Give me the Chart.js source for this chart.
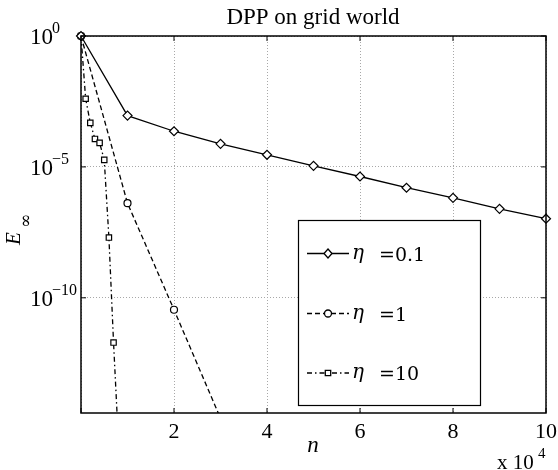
<!DOCTYPE html>
<html>
<head>
<meta charset="utf-8">
<script src="https://cdn.jsdelivr.net/npm/chart.js@4/dist/chart.umd.min.js"></script>
<style>
  body { margin: 0; background: #fff; }
  canvas { display: block; }
</style>
</head>
<body>
<canvas id="dppChart" width="558" height="470"></canvas>
<script>
'use strict';

// values (n = iterations, E = sup error)
const nEta01 = [0, 10000, 20000, 30000, 40000, 50000, 60000, 70000, 80000, 90000, 100000];
const errEta01 = [1, 9.1e-4, 2.3e-4, 7.6e-5, 2.9e-5, 1.1e-5, 4.3e-6, 1.6e-6, 6.6e-7, 2.5e-7, 1.05e-7];

const nEta1 = [0, 10000, 20000, 30000];
const errEta1 = [1, 4.1e-7, 3.5e-11, 2.5e-15];

const nEta10 = [0, 1000, 2000, 3000, 4000, 5000, 6000, 7000, 8000];
const errEta10 = [1, 4.0e-3, 4.8e-4, 1.17e-4, 8.3e-5, 1.86e-5, 2.0e-8, 1.95e-12, 5.0e-16];

const xTicks = [0, 20000, 40000, 60000, 80000, 100000];
const xTickLabels = ['', '2', '4', '6', '8', '10'];
const yTicks = [1, 1e-5, 1e-10];
const yTickExponents = ['0', '\u22125', '\u221210'];
const legendLabels = ['0.1', '1', '10'];

const serif = '"Liberation Serif", "Times New Roman", serif';
const mathFont = '"DejaVu Serif", serif';

function toPoints(xs, ys) {
  return xs.map((x, i) => ({ x: x, y: ys[i] }));
}

function drawMarker(ctx, style, x, y) {
  ctx.beginPath();
  if (style === 'rectRot') {
    ctx.moveTo(x, y - 4.5);
    ctx.lineTo(x + 4, y);
    ctx.lineTo(x, y + 4.5);
    ctx.lineTo(x - 4, y);
    ctx.closePath();
  } else if (style === 'circle') {
    ctx.arc(x, y, 3.5, 0, Math.PI * 2);
  } else {
    ctx.rect(x - 2.7, y - 2.7, 5.4, 5.4);
  }
  ctx.fillStyle = '#fff';
  ctx.fill();
  ctx.setLineDash([]);
  ctx.stroke();
}

const matlabAxes = {
  id: 'matlabAxes',
  afterDraw(chart) {
    const ctx = chart.ctx;
    const area = chart.chartArea;
    const xScale = chart.scales.x;
    const yScale = chart.scales.y;

    ctx.save();
    ctx.strokeStyle = '#000';
    ctx.fillStyle = '#000';

    // box
    ctx.lineWidth = 1.5;
    ctx.strokeRect(area.left, area.top, area.right - area.left, area.bottom - area.top);

    // inward tick marks
    ctx.lineWidth = 1;
    ctx.beginPath();
    xTicks.forEach(v => {
      const px = xScale.getPixelForValue(v);
      ctx.moveTo(px, area.bottom);
      ctx.lineTo(px, area.bottom - 5);
      ctx.moveTo(px, area.top);
      ctx.lineTo(px, area.top + 5);
    });
    yTicks.forEach(v => {
      const py = yScale.getPixelForValue(v);
      ctx.moveTo(area.left, py);
      ctx.lineTo(area.left + 5, py);
      ctx.moveTo(area.right, py);
      ctx.lineTo(area.right - 5, py);
    });
    ctx.stroke();

    // x tick labels
    ctx.font = '22px ' + serif;
    ctx.textAlign = 'center';
    ctx.textBaseline = 'alphabetic';
    xTicks.forEach((v, i) => {
      ctx.fillText(xTickLabels[i], xScale.getPixelForValue(v), 438);
    });

    // y tick labels 10^k
    ctx.textAlign = 'left';
    yTicks.forEach((v, i) => {
      const py = yScale.getPixelForValue(v);
      ctx.font = '23px ' + serif;
      ctx.fillText('10', 30, py + 8);
      ctx.font = '16px ' + serif;
      ctx.fillText(yTickExponents[i], 52, py - 3);
    });

    // title
    ctx.font = '23px ' + serif;
    ctx.textAlign = 'center';
    ctx.fillText('DPP on grid world', 313, 24);

    // x label and multiplier
    ctx.font = 'italic 23px ' + serif;
    ctx.fillText('n', 313, 452);
    ctx.textAlign = 'left';
    ctx.font = '21px ' + serif;
    ctx.fillText('x 10', 497, 469);
    ctx.font = '15px ' + serif;
    ctx.fillText('4', 538, 458);

    // y label E_inf
    ctx.save();
    ctx.translate(20, 245);
    ctx.rotate(-Math.PI / 2);
    ctx.font = 'italic 21px ' + serif;
    ctx.fillText('E', 0, 0);
    ctx.font = '17px ' + mathFont;
    ctx.fillText('\u221E', 17, 11);
    ctx.restore();

    // legend
    const box = { left: 298.5, top: 220.5, right: 480.5, bottom: 405.5 };
    ctx.fillStyle = '#fff';
    ctx.fillRect(box.left, box.top, box.right - box.left, box.bottom - box.top);
    ctx.lineWidth = 1.2;
    ctx.strokeRect(box.left, box.top, box.right - box.left, box.bottom - box.top);
    const rows = [253.5, 313.5, 373];
    chart.data.datasets.forEach((ds, i) => {
      const y = rows[i];
      ctx.strokeStyle = '#000';
      ctx.lineWidth = ds.borderWidth;
      ctx.setLineDash(ds.borderDash || []);
      ctx.beginPath();
      ctx.moveTo(307, y);
      ctx.lineTo(349, y);
      ctx.stroke();
      drawMarker(ctx, ds.pointStyle, 328, y);
      ctx.fillStyle = '#000';
      ctx.textAlign = 'left';
      ctx.textBaseline = 'alphabetic';
      ctx.font = 'italic 20px ' + mathFont;
      ctx.fillText('\u03B7', 352, y + 5);
      ctx.font = '19px ' + mathFont;
      ctx.fillText('=' + legendLabels[i], 379, y + 7);
    });

    ctx.restore();
  }
};

const ctx = document.getElementById('dppChart').getContext('2d');

const dppChart = new Chart(ctx, {
  type: 'line',
  data: {
    datasets: [{
      label: '\u03B7 =0.1',
      data: toPoints(nEta01, errEta01),
      borderColor: '#000',
      borderWidth: 1.3,
      pointStyle: 'rectRot',
      pointRadius: 4.5,
      pointBackgroundColor: '#fff',
      pointBorderColor: '#000',
      pointBorderWidth: 1.2,
      clip: { left: 8, top: 8, right: 8, bottom: 0 }
    }, {
      label: '\u03B7 =1',
      data: toPoints(nEta1, errEta1),
      borderColor: '#000',
      borderWidth: 1.3,
      borderDash: [5, 3],
      pointStyle: 'circle',
      pointRadius: 3.5,
      pointBackgroundColor: '#fff',
      pointBorderColor: '#000',
      pointBorderWidth: 1.2,
      clip: { left: 8, top: 8, right: 8, bottom: 0 }
    }, {
      label: '\u03B7 =10',
      data: toPoints(nEta10, errEta10),
      borderColor: '#000',
      borderWidth: 1.3,
      borderDash: [5, 3, 1.5, 3],
      pointStyle: 'rect',
      pointRadius: 3.8,
      pointBackgroundColor: '#fff',
      pointBorderColor: '#000',
      pointBorderWidth: 1.2,
      clip: { left: 8, top: 8, right: 8, bottom: 0 }
    }]
  },
  options: {
    responsive: false,
    animation: false,
    devicePixelRatio: 1,
    layout: {
      padding: { left: 81, top: 36, right: 12, bottom: 57 }
    },
    plugins: {
      legend: { display: false },
      tooltip: { enabled: false },
      title: { display: false }
    },
    scales: {
      x: {
        type: 'linear',
        min: 0,
        max: 100000,
        afterBuildTicks: (scale) => {
          scale.ticks = xTicks.map(v => ({ value: v }));
        },
        ticks: { display: false },
        grid: { color: '#a8a8a8', lineWidth: 1, drawTicks: false },
        border: { display: false, dash: [1, 2] }
      },
      y: {
        type: 'logarithmic',
        min: Math.pow(10, -14.4),
        max: 1,
        afterBuildTicks: (scale) => {
          scale.ticks = yTicks.map(v => ({ value: v }));
        },
        ticks: { display: false },
        grid: { color: '#a8a8a8', lineWidth: 1, drawTicks: false },
        border: { display: false, dash: [1, 2] }
      }
    }
  },
  plugins: [matlabAxes]
});
</script>
</body>
</html>
